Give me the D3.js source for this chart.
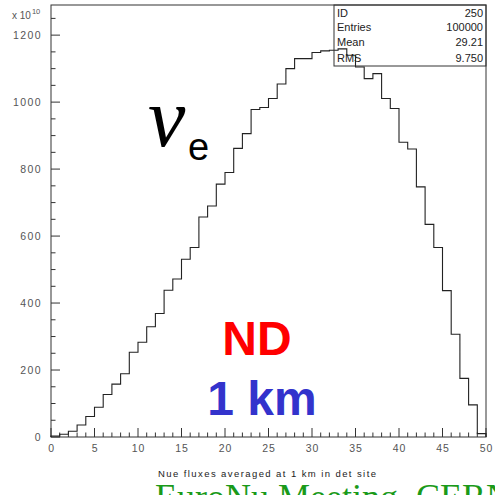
<!DOCTYPE html>
<html>
<head>
<meta charset="utf-8" />
<title>Nue flux</title>
<style>
  body { margin: 0; background: #fff; }
  svg { display: block; font-family: "Liberation Sans", Arial, sans-serif; }
</style>
</head>
<body>
<svg width="495" height="495"></svg>
<script src="https://cdn.jsdelivr.net/npm/d3@7"></script>
<script>
// bin contents (units of 1e10), 50 bins of width 1 from 0 to 50
var binValues = [3, 8, 17, 36, 61, 89, 127, 158, 189, 253,
                 283, 329, 369, 438, 472, 531, 566, 657, 690, 755,
                 790, 862, 906, 978, 984, 1011, 1054, 1100, 1130, 1130,
                 1148, 1153, 1155, 1159, 1140, 1105, 1070, 1085, 1011, 981,
                 880, 860, 747, 635, 566, 437, 307, 175, 96, 10];
var xMajorTicks = [0, 5, 10, 15, 20, 25, 30, 35, 40, 45, 50];
var yMajorTicks = [0, 200, 400, 600, 800, 1000, 1200];
var statLabels = ['ID', 'Entries', 'Mean', 'RMS'];
var statValues = ['250', '100000', '29.21', '9.750'];

var serif = '"Liberation Serif", "Times New Roman", serif';
var sans = '"Liberation Sans", Arial, sans-serif';

var svg = d3.select('svg');

var x = d3.scaleLinear().domain([0, 50]).range([51, 486]);
var y = d3.scaleLinear().domain([0, 1290]).range([437, 5]);

// frame
svg.append('rect')
    .attr('x', x(0)).attr('y', y(1290))
    .attr('width', x(50) - x(0)).attr('height', y(0) - y(1290))
    .attr('fill', 'none').attr('stroke', '#333').attr('stroke-width', 1);

// x ticks (inside, upward)
svg.append('g').selectAll('line')
    .data(d3.range(0, 51))
    .enter().append('line')
    .attr('x1', d => x(d)).attr('x2', d => x(d))
    .attr('y1', y(0))
    .attr('y2', d => y(0) - (d % 5 === 0 ? 9 : 4.5))
    .attr('stroke', '#333');

svg.append('g').selectAll('text')
    .data(xMajorTicks)
    .enter().append('text')
    .attr('x', d => x(d) + 0.5).attr('y', 452)
    .attr('text-anchor', 'middle')
    .attr('font-size', 10.5).attr('fill', '#555')
    .style('letter-spacing', '0.8px')
    .text(d => d);

// y ticks (inside, rightward)
svg.append('g').selectAll('line')
    .data(d3.range(0, 1290, 50))
    .enter().append('line')
    .attr('y1', d => y(d)).attr('y2', d => y(d))
    .attr('x1', x(0))
    .attr('x2', d => x(0) + (d % 200 === 0 ? 9 : 4.5))
    .attr('stroke', '#333');

svg.append('g').selectAll('text')
    .data(yMajorTicks)
    .enter().append('text')
    .attr('x', 42).attr('y', d => y(d) + 4)
    .attr('text-anchor', 'end')
    .attr('font-size', 10.5).attr('fill', '#555')
    .style('letter-spacing', '1.4px')
    .text(d => d);

// exponent
var expo = svg.append('text').attr('x', 12).attr('y', 19)
    .attr('font-size', 10).attr('fill', '#555');
expo.append('tspan').text('x 10');
expo.append('tspan').attr('font-size', 7.5).attr('dy', -5).attr('dx', 1).text('10');

// histogram
var pts = [[0, 0]].concat(binValues.map((v, i) => [i, v]));
pts.push([50, binValues[binValues.length - 1]]);
pts.push([50, 0]);
svg.append('path')
    .attr('d', d3.line().x(d => x(d[0])).y(d => y(d[1])).curve(d3.curveStepAfter)(pts))
    .attr('fill', 'none').attr('stroke', '#222').attr('stroke-width', 1.1);

// stats box
svg.append('rect')
    .attr('x', 334).attr('y', 5).attr('width', 152).attr('height', 61)
    .attr('fill', 'none').attr('stroke', '#333');
var rowY = [17, 31, 46, 62];
svg.append('g').selectAll('text')
    .data(statLabels)
    .enter().append('text')
    .attr('x', 337).attr('y', (d, i) => rowY[i])
    .attr('font-size', 11).attr('fill', '#222')
    .text(d => d);
svg.append('g').selectAll('text')
    .data(statValues)
    .enter().append('text')
    .attr('x', 483).attr('y', (d, i) => rowY[i])
    .attr('text-anchor', 'end')
    .attr('font-size', 11).attr('fill', '#222')
    .text(d => d);

// x title
svg.append('text')
    .attr('x', 158).attr('y', 477)
    .attr('font-size', 9.5).attr('fill', '#222')
    .attr('textLength', 218).attr('lengthAdjust', 'spacing')
    .text('Nue fluxes averaged at 1 km in det site');

// annotations
svg.append('text')
    .attr('x', 148).attr('y', 146)
    .style('font-family', serif)
    .style('font-style', 'italic')
    .attr('font-size', 84).attr('fill', '#000')
    .text('\u03bd');
svg.append('text')
    .attr('x', 188).attr('y', 160)
    .style('font-family', sans)
    .attr('font-size', 38).attr('fill', '#000')
    .text('e');

svg.append('text')
    .attr('x', 257).attr('y', 355)
    .attr('text-anchor', 'middle')
    .attr('font-size', 48).attr('font-weight', 'bold').attr('fill', '#ff0000')
    .text('ND');

svg.append('text')
    .attr('x', 262).attr('y', 415)
    .attr('text-anchor', 'middle')
    .attr('font-size', 48).attr('font-weight', 'bold').attr('fill', '#3333cc')
    .text('1 km');

svg.append('text')
    .attr('x', 155).attr('y', 509)
    .style('font-family', serif)
    .attr('font-size', 36).attr('fill', '#1a9a1a')
    .text('EuroNu Meeting, CERN');
</script>
</body>
</html>
